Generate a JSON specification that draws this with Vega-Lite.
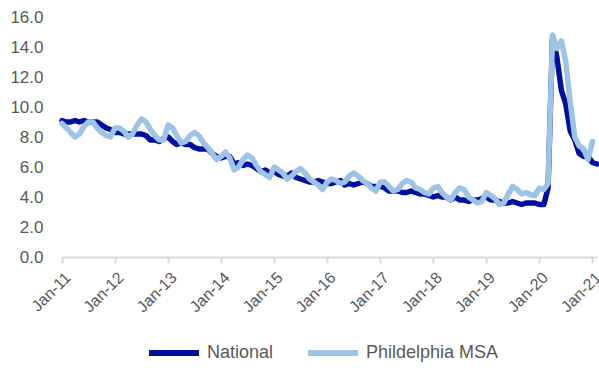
{
  "$schema": "https://vega.github.io/schema/vega-lite/v6.json",
  "width": 535,
  "height": 240,
  "autosize": "none",
  "padding": {"left": 62, "top": 17, "right": 2, "bottom": 113},
  "background": "white",
  "config": {
    "view": {"stroke": null},
    "font": "Liberation Sans"
  },
  "data": {
    "values": [
      {"d":"2011-01-01","National":9.1,"Phildelphia MSA":8.9},
      {"d":"2011-02-01","National":9.0,"Phildelphia MSA":8.6},
      {"d":"2011-03-01","National":9.0,"Phildelphia MSA":8.3},
      {"d":"2011-04-01","National":9.1,"Phildelphia MSA":8.0},
      {"d":"2011-05-01","National":9.0,"Phildelphia MSA":8.2},
      {"d":"2011-06-01","National":9.1,"Phildelphia MSA":8.7},
      {"d":"2011-07-01","National":9.0,"Phildelphia MSA":9.0},
      {"d":"2011-08-01","National":9.0,"Phildelphia MSA":9.0},
      {"d":"2011-09-01","National":9.0,"Phildelphia MSA":8.6},
      {"d":"2011-10-01","National":8.8,"Phildelphia MSA":8.3},
      {"d":"2011-11-01","National":8.6,"Phildelphia MSA":8.1},
      {"d":"2011-12-01","National":8.5,"Phildelphia MSA":8.0},
      {"d":"2012-01-01","National":8.3,"Phildelphia MSA":8.6},
      {"d":"2012-02-01","National":8.3,"Phildelphia MSA":8.6},
      {"d":"2012-03-01","National":8.2,"Phildelphia MSA":8.4},
      {"d":"2012-04-01","National":8.2,"Phildelphia MSA":8.0},
      {"d":"2012-05-01","National":8.2,"Phildelphia MSA":8.2},
      {"d":"2012-06-01","National":8.2,"Phildelphia MSA":8.8},
      {"d":"2012-07-01","National":8.2,"Phildelphia MSA":9.2},
      {"d":"2012-08-01","National":8.1,"Phildelphia MSA":9.0},
      {"d":"2012-09-01","National":7.8,"Phildelphia MSA":8.5},
      {"d":"2012-10-01","National":7.8,"Phildelphia MSA":8.1},
      {"d":"2012-11-01","National":7.7,"Phildelphia MSA":7.8},
      {"d":"2012-12-01","National":7.9,"Phildelphia MSA":7.8},
      {"d":"2013-01-01","National":8.0,"Phildelphia MSA":8.8},
      {"d":"2013-02-01","National":7.7,"Phildelphia MSA":8.6},
      {"d":"2013-03-01","National":7.5,"Phildelphia MSA":8.1},
      {"d":"2013-04-01","National":7.6,"Phildelphia MSA":7.6},
      {"d":"2013-05-01","National":7.5,"Phildelphia MSA":7.7},
      {"d":"2013-06-01","National":7.5,"Phildelphia MSA":8.1},
      {"d":"2013-07-01","National":7.3,"Phildelphia MSA":8.3},
      {"d":"2013-08-01","National":7.2,"Phildelphia MSA":8.1},
      {"d":"2013-09-01","National":7.2,"Phildelphia MSA":7.6},
      {"d":"2013-10-01","National":7.2,"Phildelphia MSA":7.3},
      {"d":"2013-11-01","National":6.9,"Phildelphia MSA":6.9},
      {"d":"2013-12-01","National":6.7,"Phildelphia MSA":6.5},
      {"d":"2014-01-01","National":6.6,"Phildelphia MSA":6.7},
      {"d":"2014-02-01","National":6.7,"Phildelphia MSA":7.0},
      {"d":"2014-03-01","National":6.7,"Phildelphia MSA":6.6},
      {"d":"2014-04-01","National":6.2,"Phildelphia MSA":5.8},
      {"d":"2014-05-01","National":6.3,"Phildelphia MSA":6.0},
      {"d":"2014-06-01","National":6.1,"Phildelphia MSA":6.5},
      {"d":"2014-07-01","National":6.2,"Phildelphia MSA":6.8},
      {"d":"2014-08-01","National":6.1,"Phildelphia MSA":6.6},
      {"d":"2014-09-01","National":5.9,"Phildelphia MSA":6.1},
      {"d":"2014-10-01","National":5.7,"Phildelphia MSA":5.7},
      {"d":"2014-11-01","National":5.8,"Phildelphia MSA":5.5},
      {"d":"2014-12-01","National":5.6,"Phildelphia MSA":5.3},
      {"d":"2015-01-01","National":5.7,"Phildelphia MSA":6.0},
      {"d":"2015-02-01","National":5.5,"Phildelphia MSA":5.8},
      {"d":"2015-03-01","National":5.4,"Phildelphia MSA":5.6},
      {"d":"2015-04-01","National":5.4,"Phildelphia MSA":5.2},
      {"d":"2015-05-01","National":5.6,"Phildelphia MSA":5.4},
      {"d":"2015-06-01","National":5.3,"Phildelphia MSA":5.7},
      {"d":"2015-07-01","National":5.2,"Phildelphia MSA":5.9},
      {"d":"2015-08-01","National":5.1,"Phildelphia MSA":5.6},
      {"d":"2015-09-01","National":5.0,"Phildelphia MSA":5.2},
      {"d":"2015-10-01","National":5.0,"Phildelphia MSA":5.0},
      {"d":"2015-11-01","National":5.1,"Phildelphia MSA":4.8},
      {"d":"2015-12-01","National":5.0,"Phildelphia MSA":4.5},
      {"d":"2016-01-01","National":4.9,"Phildelphia MSA":5.0},
      {"d":"2016-02-01","National":4.9,"Phildelphia MSA":5.2},
      {"d":"2016-03-01","National":5.0,"Phildelphia MSA":5.1},
      {"d":"2016-04-01","National":5.1,"Phildelphia MSA":4.9},
      {"d":"2016-05-01","National":4.8,"Phildelphia MSA":5.0},
      {"d":"2016-06-01","National":4.9,"Phildelphia MSA":5.4},
      {"d":"2016-07-01","National":4.8,"Phildelphia MSA":5.6},
      {"d":"2016-08-01","National":4.9,"Phildelphia MSA":5.4},
      {"d":"2016-09-01","National":5.0,"Phildelphia MSA":5.1},
      {"d":"2016-10-01","National":4.9,"Phildelphia MSA":4.9},
      {"d":"2016-11-01","National":4.7,"Phildelphia MSA":4.6},
      {"d":"2016-12-01","National":4.7,"Phildelphia MSA":4.4},
      {"d":"2017-01-01","National":4.7,"Phildelphia MSA":5.0},
      {"d":"2017-02-01","National":4.6,"Phildelphia MSA":5.0},
      {"d":"2017-03-01","National":4.4,"Phildelphia MSA":4.7},
      {"d":"2017-04-01","National":4.4,"Phildelphia MSA":4.4},
      {"d":"2017-05-01","National":4.4,"Phildelphia MSA":4.5},
      {"d":"2017-06-01","National":4.3,"Phildelphia MSA":4.9},
      {"d":"2017-07-01","National":4.3,"Phildelphia MSA":5.1},
      {"d":"2017-08-01","National":4.4,"Phildelphia MSA":5.0},
      {"d":"2017-09-01","National":4.3,"Phildelphia MSA":4.6},
      {"d":"2017-10-01","National":4.2,"Phildelphia MSA":4.5},
      {"d":"2017-11-01","National":4.2,"Phildelphia MSA":4.3},
      {"d":"2017-12-01","National":4.1,"Phildelphia MSA":4.2},
      {"d":"2018-01-01","National":4.0,"Phildelphia MSA":4.6},
      {"d":"2018-02-01","National":4.1,"Phildelphia MSA":4.7},
      {"d":"2018-03-01","National":4.0,"Phildelphia MSA":4.3},
      {"d":"2018-04-01","National":4.0,"Phildelphia MSA":4.0},
      {"d":"2018-05-01","National":3.8,"Phildelphia MSA":3.8},
      {"d":"2018-06-01","National":4.0,"Phildelphia MSA":4.3},
      {"d":"2018-07-01","National":3.8,"Phildelphia MSA":4.6},
      {"d":"2018-08-01","National":3.8,"Phildelphia MSA":4.5},
      {"d":"2018-09-01","National":3.7,"Phildelphia MSA":4.0},
      {"d":"2018-10-01","National":3.8,"Phildelphia MSA":3.8},
      {"d":"2018-11-01","National":3.8,"Phildelphia MSA":3.6},
      {"d":"2018-12-01","National":3.9,"Phildelphia MSA":3.7},
      {"d":"2019-01-01","National":4.0,"Phildelphia MSA":4.3},
      {"d":"2019-02-01","National":3.8,"Phildelphia MSA":4.1},
      {"d":"2019-03-01","National":3.8,"Phildelphia MSA":3.9},
      {"d":"2019-04-01","National":3.7,"Phildelphia MSA":3.5},
      {"d":"2019-05-01","National":3.6,"Phildelphia MSA":3.6},
      {"d":"2019-06-01","National":3.6,"Phildelphia MSA":4.2},
      {"d":"2019-07-01","National":3.7,"Phildelphia MSA":4.7},
      {"d":"2019-08-01","National":3.6,"Phildelphia MSA":4.5},
      {"d":"2019-09-01","National":3.5,"Phildelphia MSA":4.2},
      {"d":"2019-10-01","National":3.6,"Phildelphia MSA":4.3},
      {"d":"2019-11-01","National":3.6,"Phildelphia MSA":4.15},
      {"d":"2019-12-01","National":3.6,"Phildelphia MSA":4.1},
      {"d":"2020-01-01","National":3.5,"Phildelphia MSA":4.6},
      {"d":"2020-02-01","National":3.5,"Phildelphia MSA":4.5},
      {"d":"2020-03-01","National":4.6,"Phildelphia MSA":4.9},
      {"d":"2020-04-01","National":14.7,"Phildelphia MSA":14.8},
      {"d":"2020-05-01","National":13.3,"Phildelphia MSA":13.9},
      {"d":"2020-06-01","National":11.1,"Phildelphia MSA":14.4},
      {"d":"2020-07-01","National":10.2,"Phildelphia MSA":13.0},
      {"d":"2020-08-01","National":8.4,"Phildelphia MSA":10.3},
      {"d":"2020-09-01","National":7.8,"Phildelphia MSA":8.0},
      {"d":"2020-10-01","National":6.9,"Phildelphia MSA":7.4},
      {"d":"2020-11-01","National":6.7,"Phildelphia MSA":7.2},
      {"d":"2020-12-01","National":6.7,"Phildelphia MSA":6.5},
      {"d":"2021-01-01","National":6.3,"Phildelphia MSA":7.7},
      {"d":"2021-02-01","National":6.2,"Phildelphia MSA":null}
    ]
  },
  "transform": [
    {"fold": ["National", "Phildelphia MSA"], "as": ["series", "value"]}
  ],
  "mark": {"type": "line", "strokeWidth": 5.5, "strokeJoin": "round", "strokeCap": "round", "clip": false},
  "encoding": {
    "x": {
      "field": "d",
      "type": "temporal",
      "scale": {
        "type": "utc",
        "domain": [
          {"year": 2011, "month": 1, "date": 1, "utc": true},
          {"year": 2021, "month": 2, "date": 1, "utc": true}
        ],
        "nice": false
      },
      "axis": {
        "title": null,
        "labelExpr": "utcFormat(datum.value, '%b-%y')",
        "tickCount": {"interval": "year", "step": 1},
        "labelAngle": -45,
        "labelFontSize": 16,
        "labelColor": "#595959",
        "labelPadding": 6,
        "domainColor": "#d9d9d9",
        "domainWidth": 2,
        "tickColor": "#d9d9d9",
        "tickWidth": 2,
        "tickSize": 6,
        "grid": false,
        "labelFlush": false,
        "labelOverlap": false
      }
    },
    "y": {
      "field": "value",
      "type": "quantitative",
      "scale": {"domain": [0, 16], "nice": false},
      "axis": {
        "title": null,
        "values": [0, 2, 4, 6, 8, 10, 12, 14, 16],
        "format": ".1f",
        "labelFontSize": 17,
        "labelColor": "#595959",
        "labelPadding": 19,
        "domain": false,
        "ticks": false,
        "grid": false
      }
    },
    "color": {
      "field": "series",
      "type": "nominal",
      "scale": {"domain": ["National", "Phildelphia MSA"], "range": ["#000f9f", "#9dc3e6"]},
      "legend": {
        "title": null,
        "orient": "none",
        "direction": "horizontal",
        "legendX": 84,
        "legendY": 308,
        "padding": 0,
        "symbolType": "stroke",
        "symbolSize": 2500,
        "symbolStrokeWidth": 6,
        "labelFontSize": 18,
        "labelColor": "#595959",
        "labelOffset": 5,
        "columnPadding": 22
      }
    }
  }
}
